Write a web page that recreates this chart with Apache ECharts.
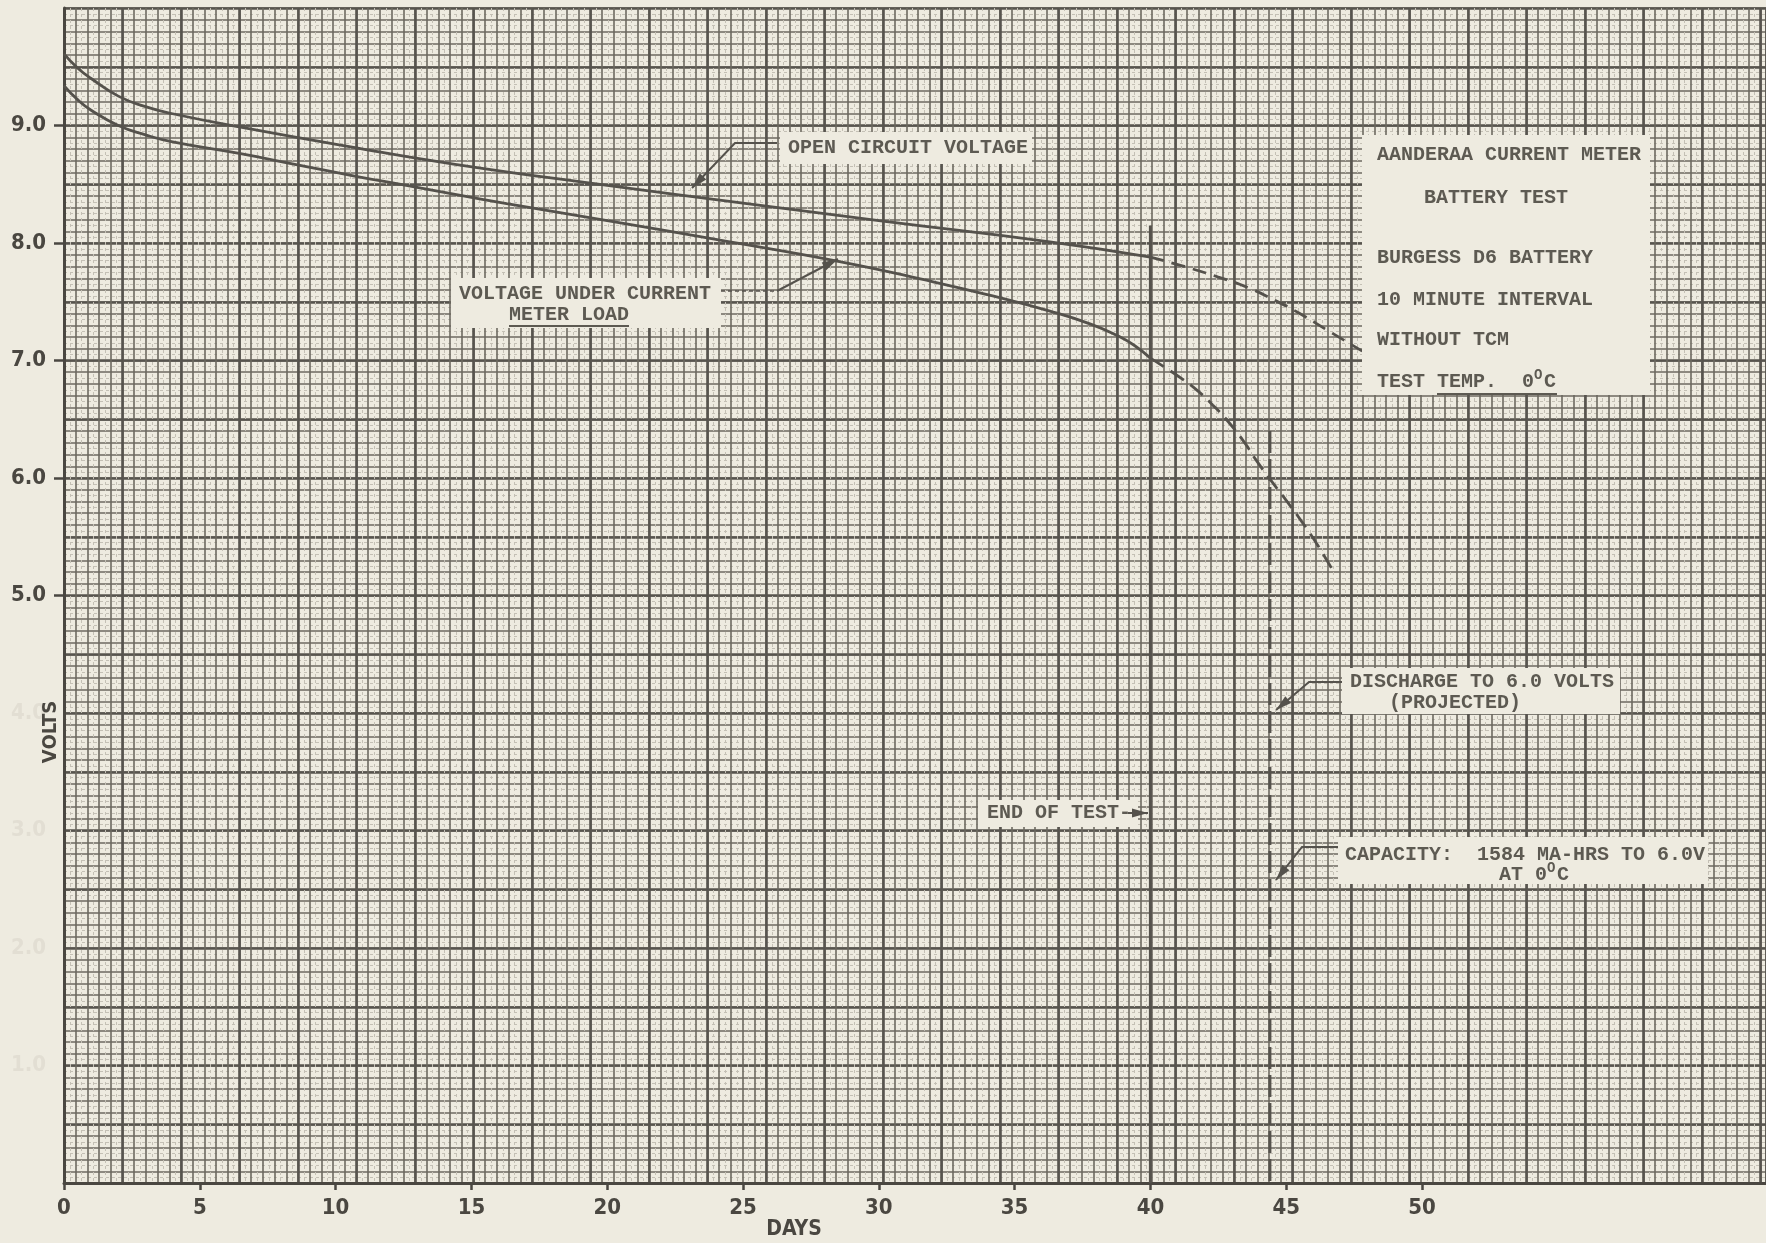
<!DOCTYPE html>
<html>
<head>
<meta charset="utf-8">
<script src="https://cdn.jsdelivr.net/npm/echarts@6/dist/echarts.min.js"></script>
<style>
html,body{margin:0;padding:0;background:#eeebe0;}
#c{width:1766px;height:1243px;}
</style>
</head>
<body>
<div id="c"></div>
<script>
// ---- data ----
const ocvDays  = [0, 0.5, 1.0, 2.0, 3.0, 4.0, 6.4, 10.5, 14.4, 20, 25, 30, 36.3, 40];
const ocvVolts = [9.61, 9.49, 9.40, 9.25, 9.16, 9.10, 8.99, 8.82, 8.67, 8.49, 8.34, 8.19, 8.01, 7.88];
const ocvProjDays  = [40, 41.4, 42.5, 43.6, 44.6, 45.5, 46.5, 47.8];
const ocvProjVolts = [7.88, 7.79, 7.71, 7.62, 7.51, 7.40, 7.26, 7.08];
const loadDays  = [0, 0.5, 1.0, 2.0, 3.0, 4.0, 6.5, 8.5, 10.7, 12.6, 14.6, 16.3, 20, 24, 28.6, 32, 34, 36.3, 37.8, 38.8, 39.4, 40];
const loadVolts = [9.34, 9.22, 9.13, 9.00, 8.92, 8.86, 8.76, 8.67, 8.57, 8.49, 8.405, 8.335, 8.19, 8.03, 7.84, 7.67, 7.56, 7.42, 7.31, 7.21, 7.13, 7.02];
const loadProjDays  = [40, 41.0, 41.7, 42.3, 42.9, 43.5, 43.9, 44.5, 45.0, 45.6, 46.1, 46.7];
const loadProjVolts = [7.02, 6.87, 6.75, 6.62, 6.47, 6.29, 6.15, 5.96, 5.81, 5.62, 5.45, 5.22];
const endOfTestDay = 40;
const endOfTestVolts = [8.15, 0];
const projectedDay = 44.4;
const projectedVolts = [6.4, 0];
const xTickLabels = [0, 5, 10, 15, 20, 25, 30, 35, 40, 45, 50];
const yTickLabelsBold = [5, 6, 7, 8, 9];
const yTickLabelsFaint = [1, 2, 3, 4];

// ---- layout / style ----
const GL = 64, GT = 8, GR = 0, GB = 60;
const W = 1766, H = 1243;
const gridW = W - GL - GR;
const dayPx = 27.16;
const xMax = gridW / dayPx;
const cmPx = 58.5;
const paperMax = gridW / cmPx;

const inkDark = '#4a4741';
const lineInk = '#55524c';
const textInk = '#5d5a52';
const paper = '#eeebe0';
const axisFont = '"Liberation Sans Narrow","DejaVu Sans Condensed",sans-serif';
const typeFont = '"Liberation Mono","DejaVu Sans Mono",monospace';

const chart = echarts.init(document.getElementById('c'), null, {renderer: 'canvas'});

function pairs(xs, ys) { return xs.map((x, i) => [x, ys[i]]); }

function paperX(interval, color, width, minor) {
  return {
    type: 'value', min: 0, max: paperMax, interval: interval, position: 'top',
    axisLine: {show: false}, axisTick: {show: false}, axisLabel: {show: false},
    splitLine: {show: true, lineStyle: {color: color, width: width}},
    minorTick: {show: false, splitNumber: minor ? 2 : 5},
    minorSplitLine: {show: !!minor, lineStyle: {color: '#c4c0b5', width: 1, type: [3, 3]}}
  };
}
function paperY(interval, color, width, minor) {
  return {
    type: 'value', min: 0, max: 10, interval: interval, position: 'right',
    axisLine: {show: false}, axisTick: {show: false}, axisLabel: {show: false},
    splitLine: {show: true, lineStyle: {color: color, width: width}},
    minorTick: {show: false, splitNumber: minor ? 2 : 5},
    minorSplitLine: {show: !!minor, lineStyle: {color: '#c4c0b5', width: 1, type: [3, 3]}}
  };
}

// annotation helpers (pixel space)
const G = [];
function box(x, y, w, h) { G.push({type: 'rect', z: 50, shape: {x, y, width: w, height: h}, style: {fill: paper}}); }
function txt(s, x, y, size, align) {
  G.push({type: 'text', z: 60, x: x, y: y, style: {text: s, font: 'bold ' + (size || 20) + 'px ' + typeFont, fill: textInk, textAlign: align || 'left', textVerticalAlign: 'middle'}});
}
function uline(x1, x2, y) { G.push({type: 'line', z: 60, shape: {x1, y1: y, x2, y2: y}, style: {stroke: textInk, lineWidth: 2}}); }
function arrow(pts) {
  G.push({type: 'polyline', z: 60, shape: {points: pts}, style: {stroke: lineInk, lineWidth: 2, fill: null}});
  const a = pts[pts.length - 2], b = pts[pts.length - 1];
  const dx = b[0] - a[0], dy = b[1] - a[1], L = Math.hypot(dx, dy);
  const ux = dx / L, uy = dy / L, len = 16, wd = 4.5;
  const bx = b[0] - ux * len, by = b[1] - uy * len;
  G.push({type: 'polygon', z: 61, shape: {points: [b, [bx - uy * wd, by + ux * wd], [bx + uy * wd, by - ux * wd]]}, style: {fill: lineInk}});
}
function degText(x, y) {
  txt('0', x, y);
  txt('O', x + 12, y - 7, 14);
  txt('C', x + 22, y);
}

// Open circuit voltage
box(780, 132, 252, 32);
txt('OPEN CIRCUIT VOLTAGE', 788, 148);
arrow([[777, 143], [735, 143], [692, 188]]);

// Voltage under current meter load
box(451, 278, 270, 50);
txt('VOLTAGE UNDER CURRENT', 459, 294);
txt('METER LOAD', 509, 315);
uline(509, 629, 326);
G.push({type: 'line', z: 60, shape: {x1: 721, y1: 291, x2: 777, y2: 291}, style: {stroke: lineInk, lineWidth: 1.5, lineDash: [4, 3]}});
arrow([[777, 291], [838, 259]]);

// info box
box(1362, 135, 288, 260);
txt('AANDERAA CURRENT METER', 1377, 155);
txt('BATTERY TEST', 1424, 198);
txt('BURGESS D6 BATTERY', 1377, 258);
txt('10 MINUTE INTERVAL', 1377, 300);
txt('WITHOUT TCM', 1377, 340);
txt('TEST TEMP.', 1377, 382);
degText(1522, 382);
uline(1437, 1557, 394);

// End of test
box(978, 800, 160, 27);
txt('END OF TEST-', 987, 813);
arrow([[1128, 813], [1148, 813]]);

// Discharge to 6.0 volts
box(1342, 668, 278, 46);
txt('DISCHARGE TO 6.0 VOLTS', 1350, 682);
txt('(PROJECTED)', 1389, 703);
arrow([[1342, 682], [1309, 682], [1276, 710]]);

// Capacity
box(1338, 837, 370, 47);
txt('CAPACITY:  1584 MA-HRS TO 6.0V', 1345, 855);
txt('AT', 1499, 875);
degText(1535, 875);
arrow([[1338, 847], [1302, 847], [1276, 880]]);

// axis names
G.push({type: 'text', z: 60, x: 51, y: 732, rotation: Math.PI / 2, style: {text: 'VOLTS', font: 'bold 20px ' + axisFont, fill: inkDark, textAlign: 'center', textVerticalAlign: 'middle'}});
G.push({type: 'text', z: 60, x: 794, y: 1230, style: {text: 'DAYS', font: 'bold 21px ' + axisFont, fill: inkDark, textAlign: 'center', textVerticalAlign: 'middle'}});

const option = {
  backgroundColor: paper,
  animation: false,
  grid: {left: GL, right: GR, top: GT, bottom: GB, containLabel: false},
  xAxis: [
    {
      type: 'value', min: 0, max: xMax, interval: 5, position: 'bottom',
      axisLine: {show: true, lineStyle: {color: inkDark, width: 3}},
      axisTick: {show: true, customValues: xTickLabels, length: 7, lineStyle: {color: inkDark, width: 2.5}},
      axisLabel: {show: true, customValues: xTickLabels, margin: 14, color: inkDark, fontFamily: axisFont, fontWeight: 'bold', fontSize: 22},
      splitLine: {show: false}
    },
    paperX(0.2, '#6c6960', 1.6, true),
    paperX(1, '#57544e', 2.6, false)
  ],
  yAxis: [
    {
      type: 'value', min: 0, max: 10, interval: 1, position: 'left',
      axisLine: {show: true, lineStyle: {color: inkDark, width: 3}},
      axisTick: {show: true, customValues: yTickLabelsBold, length: 10, lineStyle: {color: inkDark, width: 2.5}},
      axisLabel: {
        show: true, customValues: yTickLabelsFaint.concat(yTickLabelsBold), margin: 18,
        formatter: function (v) { return (yTickLabelsBold.indexOf(v) >= 0 ? '{b|' : '{f|') + v.toFixed(1) + '}'; },
        rich: {
          b: {color: inkDark, fontFamily: axisFont, fontWeight: 'bold', fontSize: 22},
          f: {color: '#e2ded3', fontFamily: axisFont, fontWeight: 'bold', fontSize: 22}
        }
      },
      splitLine: {show: false}
    },
    paperY(0.1, '#6c6960', 1.6, true),
    paperY(0.5, '#57544e', 2.6, false)
  ],
  series: [
    {name: 'Open circuit voltage', type: 'line', xAxisIndex: 0, yAxisIndex: 0, data: pairs(ocvDays, ocvVolts), smooth: 0.5, showSymbol: false, symbol: 'none', lineStyle: {color: lineInk, width: 2.8}, z: 10},
    {name: 'Open circuit voltage (projected)', type: 'line', xAxisIndex: 0, yAxisIndex: 0, data: pairs(ocvProjDays, ocvProjVolts), smooth: 0.5, showSymbol: false, symbol: 'none', lineStyle: {color: lineInk, width: 2.8, type: [14, 8]}, z: 10},
    {name: 'Voltage under current meter load', type: 'line', xAxisIndex: 0, yAxisIndex: 0, data: pairs(loadDays, loadVolts), smooth: 0.5, showSymbol: false, symbol: 'none', lineStyle: {color: lineInk, width: 2.8}, z: 10},
    {name: 'Voltage under load (projected)', type: 'line', xAxisIndex: 0, yAxisIndex: 0, data: pairs(loadProjDays, loadProjVolts), smooth: 0.5, showSymbol: false, symbol: 'none', lineStyle: {color: lineInk, width: 2.8, type: [16, 8]}, z: 10},
    {name: 'End of test', type: 'line', xAxisIndex: 0, yAxisIndex: 0, data: endOfTestVolts.map(v => [endOfTestDay, v]), showSymbol: false, symbol: 'none', lineStyle: {color: lineInk, width: 3}, z: 10},
    {name: 'Discharge to 6.0 V (projected)', type: 'line', xAxisIndex: 0, yAxisIndex: 0, data: projectedVolts.map(v => [projectedDay, v]), showSymbol: false, symbol: 'none', lineStyle: {color: lineInk, width: 3, type: [22, 6]}, z: 10}
  ],
  graphic: G
};
chart.setOption(option);
</script>
</body>
</html>
